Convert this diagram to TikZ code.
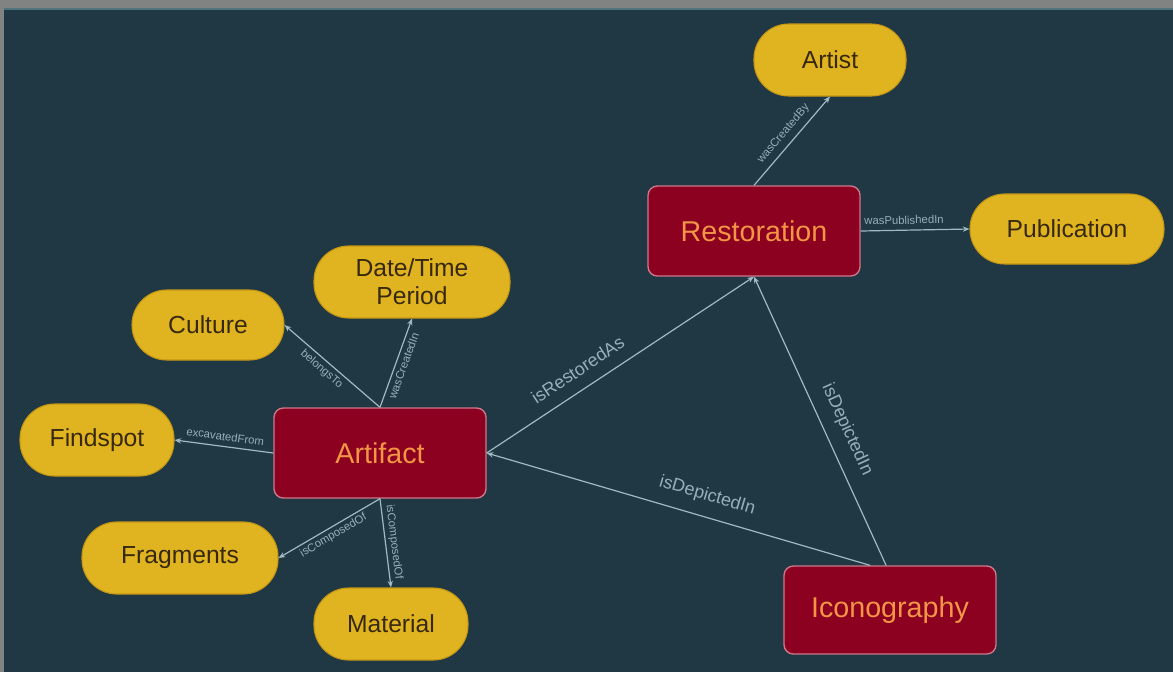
\documentclass[tikz,border=0pt]{standalone}
\usepackage{fontspec}
\setmainfont{Liberation Sans}
\usetikzlibrary{arrows.meta}
\definecolor{framegray}{RGB}{128,131,129}
\definecolor{panel}{RGB}{31,56,67}
\definecolor{paneledge}{RGB}{80,116,124}
\definecolor{pillfill}{RGB}{224,180,32}
\definecolor{pillline}{RGB}{196,150,20}
\definecolor{pilltext}{RGB}{55,40,15}
\definecolor{boxfill}{RGB}{140,0,32}
\definecolor{boxline}{RGB}{205,120,140}
\definecolor{boxtext}{RGB}{242,150,70}
\definecolor{edgecol}{RGB}{160,186,196}
\definecolor{lblcol}{RGB}{150,175,186}
\begin{document}
\begin{tikzpicture}[x=0.75pt,y=-0.75pt,
 pill/.style={draw=pillline, line width=0.8pt, fill=pillfill, rounded corners=26pt, text=pilltext, font=\fontsize{18.5}{21}\selectfont, inner sep=0pt, align=center},
 entity/.style={draw=boxline, line width=1pt, fill=boxfill, rounded corners=7pt, text=boxtext, font=\fontsize{21.5}{24}\selectfont, minimum width=159pt, inner sep=0pt},
 rel/.style={draw=edgecol, line width=0.9pt, -{Stealth[length=5pt,width=4pt]}},
 small/.style={text=lblcol, font=\fontsize{8.5}{10}\selectfont, sloped, inner sep=1pt},
 big/.style={text=lblcol, font=\fontsize{13.5}{16}\selectfont, sloped, inner sep=1pt}]
\useasboundingbox (0,0) rectangle (1173,672);
\fill[framegray] (0,0) rectangle (1173,672);
\fill[panel] (4,8) rectangle (1173,672);
\draw[paneledge, line width=1.2pt] (4,9) -- (1173,9);

% entities
\node[entity, minimum height=67.5pt] (res) at (754,231) {Restoration};
\node[entity, minimum height=67.5pt] (art) at (380,453) {Artifact};
\node[entity, minimum height=66pt] (ico) at (890,610) {Iconography};

% attributes
\node[pill, minimum width=114pt, minimum height=54pt] (artist) at (830,60) {Artist};
\node[pill, minimum width=145.5pt, minimum height=52.5pt] (pub) at (1067,229) {Publication};
\node[pill, minimum width=147pt, minimum height=54pt] (date) at (412,282) {Date/Time\\Period};
\node[pill, minimum width=114pt, minimum height=52.5pt] (cul) at (208,325) {Culture};
\node[pill, minimum width=115.5pt, minimum height=54pt] (fin) at (97,440) {Findspot};
\node[pill, minimum width=147pt, minimum height=54pt] (fra) at (180,558) {Fragments};
\node[pill, minimum width=115.5pt, minimum height=54pt] (mat) at (391,624) {Material};

% connectors
\draw[rel] (res.north) -- node[small, above=3pt, pos=0.5] {wasCreatedBy} (artist.south);
\draw[rel] (res.east) -- node[small, above=3pt, pos=0.4] {wasPublishedIn} (pub.west);
\draw[rel] (art.north) -- node[small, below=1.5pt, pos=0.55] {belongsTo} (cul.east);
\draw[rel] (art.north) -- node[small, below=1.5pt, pos=0.5] {wasCreatedIn} (date.south);
\draw[rel] (art.west) -- node[small, above=3pt, pos=0.5] {excavatedFrom} (fin.east);
\draw[rel] (art.south) -- node[small, below=1pt, pos=0.5] {isComposedOf} (fra.east);
\draw[rel] (art.south) -- node[small, above=1pt, pos=0.5] {isComposedOf} (mat.north);
\draw[rel] (art.east) -- node[big, above=8pt, pos=0.38] {isRestoredAs} (res.south);
\draw[rel] (ico.114) -- node[big, above=8pt, pos=0.44] {isDepictedIn} (art.east);
\draw[rel] (ico.95) -- node[big, above=8pt, pos=0.44] {isDepictedIn} (res.south);
\end{tikzpicture}
\end{document}
